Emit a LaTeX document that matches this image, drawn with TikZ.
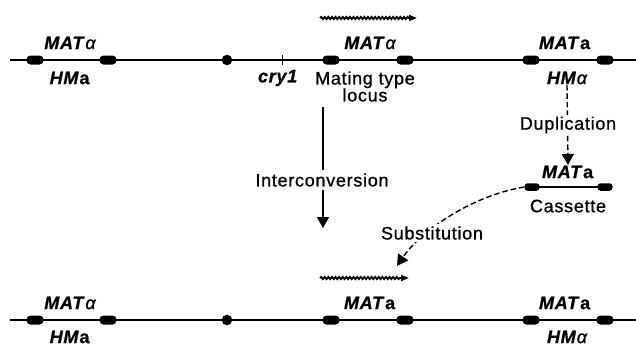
\documentclass[tikz,border=0pt]{standalone}
\usepackage{fontspec}
\setmainfont{Liberation Sans}[LetterSpace=4, FakeBold=0.9]
\usetikzlibrary{decorations.pathmorphing,arrows.meta}
\newcommand\gMAT{\textbf{\textit{MAT}}}
\newcommand\gHM{\textbf{\textit{HM}}}
\newcommand\ga{\textbf{a}}
\newcommand\gal{{\itshape α}}
\begin{document}
\begin{tikzpicture}[x=1pt,y=-1pt,
  chrom/.style={line width=1.6pt},
  blk/.style={fill=black, rounded corners=4pt, minimum width=17pt, minimum height=9pt, inner sep=0pt},
  sblk/.style={fill=black, rounded corners=3pt, minimum width=15pt, minimum height=7.5pt, inner sep=0pt},
  cen/.style={circle, fill=black, minimum size=10.5pt, inner sep=0pt},
  lbl/.style={font=\fontsize{18}{17}\selectfont, inner sep=0.5pt},
  wavy/.style={line width=1.8pt, decorate, decoration={snake, amplitude=1.1pt, segment length=3.6pt, post length=8pt}},
  wtip/.style={-{Triangle[length=8pt,width=6pt]}},
  conn/.style={line width=1.4pt, -{Triangle[length=11pt,width=12pt]}},
  dconn/.style={conn, dash pattern=on 5.5pt off 3pt}
]
\useasboundingbox (0,0) rectangle (636,346);

% ---------- top chromosome ----------
\coordinate (t0) at (10,60);
\coordinate (t1) at (636,60);
\draw[chrom] (t0) -- (t1);
\node[blk] (ta1) at (35,60) {};
\node[blk] (ta2) at (108,60) {};
\node[blk] (tb1) at (331,60) {};
\node[blk] (tb2) at (405,60) {};
\node[blk] (tc1) at (531,60) {};
\node[blk] (tc2) at (605,60) {};
\node[cen] (tcen) at (227,60) {};
\coordinate (tk1) at (282,55);
\coordinate (tk2) at (282,65);
\draw[line width=1pt] (tk1) -- (tk2);

\node[lbl] (tMATl) at (70,43) {\gMAT\gal};
\node[lbl] (tHMl) at (70,78) {\gHM\ga};
\node[lbl] (tcry) at (278,78) {\textbf{\textit{cry1}}};
\node[lbl] (tMATm) at (370,43) {\gMAT\gal};
\node[lbl, align=center] (tmtl) at (365,86.5) {Mating type\\locus};
\node[lbl] (tMATr) at (565,43) {\gMAT\ga};
\node[lbl] (tHMr) at (567,78) {\gHM\gal};

\coordinate (tw1) at (320,18);
\coordinate (tw2) at (417,18);
\draw[wavy, wtip] (tw1) -- (tw2);

% ---------- interconversion ----------
\coordinate (ic1) at (323,107);
\coordinate (ic2) at (323,228);
\draw[conn] (ic1) -- (ic2);
\node[lbl, fill=white, inner sep=3pt] (icl) at (322,180) {Interconversion};

% ---------- cassette ----------
\node[lbl] (cMAT) at (568,172) {\gMAT\ga};
\coordinate (cl0) at (525,187);
\coordinate (cl1) at (612,187);
\draw[line width=1.3pt] (cl0) -- (cl1);
\node[sblk] (cb1) at (532,187) {};
\node[sblk] (cb2) at (605,187) {};
\node[lbl] (ccas) at (568,206) {Cassette};

\draw[dconn] (tHMr.south) -- (cMAT.north);
\node[lbl, fill=white, inner sep=2pt] (dupl) at (568,125) {Duplication};

\coordinate (sube) at (397,266);
\draw[dconn] (cb1.west) .. controls (470,196) and (420,232) .. (sube);
\node[lbl, fill=white, inner sep=2pt] (subl) at (432,233) {Substitution};

% ---------- bottom chromosome ----------
\coordinate (b0) at (10,320);
\coordinate (b1) at (636,320);
\draw[chrom] (b0) -- (b1);
\node[blk] (ba1) at (35,320) {};
\node[blk] (ba2) at (108,320) {};
\node[blk] (bb1) at (331,320) {};
\node[blk] (bb2) at (405,320) {};
\node[blk] (bc1) at (531,320) {};
\node[blk] (bc2) at (605,320) {};
\node[cen] (bcen) at (227,320) {};

\node[lbl] (bMATl) at (70,303) {\gMAT\gal};
\node[lbl] (bHMl) at (70,337) {\gHM\ga};
\node[lbl] (bMATm) at (370,303) {\gMAT\ga};
\node[lbl] (bMATr) at (565,303) {\gMAT\ga};
\node[lbl] (bHMr) at (567,337) {\gHM\gal};

\coordinate (bw1) at (320,278);
\coordinate (bw2) at (409,278);
\draw[wavy, wtip] (bw1) -- (bw2);
\end{tikzpicture}
\end{document}
